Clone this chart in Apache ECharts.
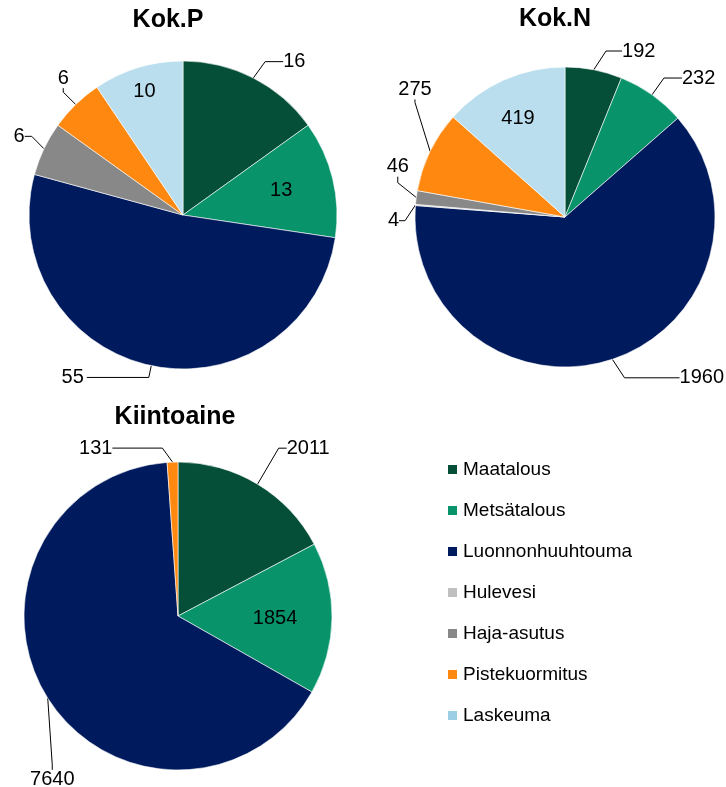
<!DOCTYPE html>
<html>
<head>
<meta charset="utf-8">
<script src="https://cdn.jsdelivr.net/npm/echarts@6/dist/echarts.min.js"></script>
<style>
html,body{margin:0;padding:0;background:#fff;}
#main{width:726px;height:787px;}
</style>
</head>
<body>
<div id="main"></div>
<script>
// data
const categories = ['Maatalous', 'Metsätalous', 'Luonnonhuuhtouma', 'Hulevesi', 'Haja-asutus', 'Pistekuormitus', 'Laskeuma'];
const kokP = [16, 13, 55, 0, 6, 6, 10];
const kokN = [192, 232, 1960, 4, 46, 275, 419];
const kiintoaine = [2011, 1854, 7640, 0, 0, 131, 0];
const titles = ['Kok.P', 'Kok.N', 'Kiintoaine'];

const colors = ['#054f38', '#08936b', '#001a5e', '#c0c0c0', '#888888', '#ff8811', '#badeee'];
const legendColors = ['#054f38', '#08936b', '#001a5e', '#c0c0c0', '#888888', '#ff8811', '#9ccfe5'];
const FONT = '"Liberation Sans", Arial, sans-serif';

// layout for each pie; lines = [length, length2], shift = label nudge [dx, dy]
const pies = [
  {title: titles[0], values: kokP, center: [183, 215], r: 154, tx: 168, ty: 8,
   inside: ['Metsätalous', 'Laskeuma'], r0: 0.5,
   lines: {'Maatalous': [15, 18], 'Luonnonhuuhtouma': [12, 62], 'Haja-asutus': [8, 7], 'Pistekuormitus': [20, 4]},
   shift: {'Pistekuormitus': [14, -12], 'Haja-asutus': [-2, -9], 'Maatalous': [2, -3],
           'Metsätalous': [-17, 3], 'Laskeuma': [-4, -10]}},
  {title: titles[1], values: kokN, center: [565, 217], r: 150, tx: 555, ty: 7,
   inside: ['Laskeuma'], r0: 0.46,
   lines: {'Maatalous': [12, 16], 'Metsätalous': [12, 18], 'Luonnonhuuhtouma': [10, 55], 'Hulevesi': [6, 6], 'Haja-asutus': [6, 6], 'Pistekuormitus': [25, 3]},
   shift: {'Pistekuormitus': [30, -51], 'Haja-asutus': [5, -30], 'Maatalous': [7, -7], 'Metsätalous': [2, -7],
           'Luonnonhuuhtouma': [6, 9], 'Hulevesi': [-4, 2], 'Laskeuma': [-1, 4]}},
  {title: titles[2], values: kiintoaine, center: [178, 616], r: 154, tx: 175, ty: 405,
   inside: ['Metsätalous'], r0: 0.26,
   lines: {'Maatalous': [35, 8], 'Luonnonhuuhtouma': [5, 5], 'Pistekuormitus': [5, 50]},
   shift: {'Luonnonhuuhtouma': [39, 79], 'Pistekuormitus': [-7, -9], 'Maatalous': [0, -6], 'Metsätalous': [-3, 1]}}
];

function buildData(p, overlay) {
  const out = [];
  p.values.forEach((v, i) => {
    if (!v) return;
    const name = categories[i];
    const isIn = p.inside.indexOf(name) >= 0;
    const ln = p.lines[name] || [12, 10];
    out.push({
      name: name,
      value: v,
      itemStyle: {color: overlay ? 'rgba(0,0,0,0)' : colors[i]},
      label: {show: overlay ? isIn : !isIn},
      labelLine: {show: !overlay && !isIn, length: ln[0], length2: ln[1]}
    });
  });
  return out;
}

function nudge(p, data) {
  return function (params) {
    const off = p.shift[data[params.dataIndex].name];
    if (!off) return {};
    return {x: params.labelRect.x + off[0], y: params.labelRect.y + off[1], align: 'left', verticalAlign: 'top'};
  };
}

const series = [];
pies.forEach(p => {
  const data = buildData(p, false);
  series.push({
    type: 'pie',
    center: p.center,
    radius: [0, p.r],
    startAngle: 90,
    clockwise: true,
    avoidLabelOverlap: true,
    silent: true,
    itemStyle: {borderColor: '#ffffff', borderWidth: 0.6},
    label: {position: 'outside', formatter: '{c}', color: '#000', fontSize: 20, fontFamily: FONT,
            distanceToLabelLine: 3, overflow: 'none'},
    labelLine: {lineStyle: {color: '#000', width: 1}},
    labelLayout: nudge(p, data),
    data: data
  });
});
// transparent copies only to place the labels that sit inside the slices
pies.forEach(p => {
  const data = buildData(p, true);
  series.push({
    type: 'pie',
    center: p.center,
    radius: [p.r * p.r0, p.r],
    startAngle: 90,
    clockwise: true,
    silent: true,
    itemStyle: {borderWidth: 0},
    label: {position: 'inside', formatter: '{c}', color: '#000', fontSize: 20, fontFamily: FONT},
    labelLine: {show: false},
    labelLayout: nudge(p, data),
    data: data
  });
});

const chart = echarts.init(document.getElementById('main'));
chart.setOption({
  animation: false,
  title: pies.map(p => ({
    text: p.title, left: p.tx, top: p.ty, textAlign: 'center', padding: 0,
    textStyle: {fontSize: 25, fontWeight: 'bold', color: '#000', fontFamily: FONT}
  })),
  legend: {
    orient: 'vertical',
    left: 446,
    top: 460,
    padding: 0,
    itemWidth: 11,
    itemHeight: 11,
    itemGap: 22,
    icon: 'rect',
    selectedMode: false,
    textStyle: {fontSize: 19, color: '#000', fontFamily: FONT},
    data: categories.map((c, i) => ({name: c, itemStyle: {color: legendColors[i]}}))
  },
  series: series
});
</script>
</body>
</html>
